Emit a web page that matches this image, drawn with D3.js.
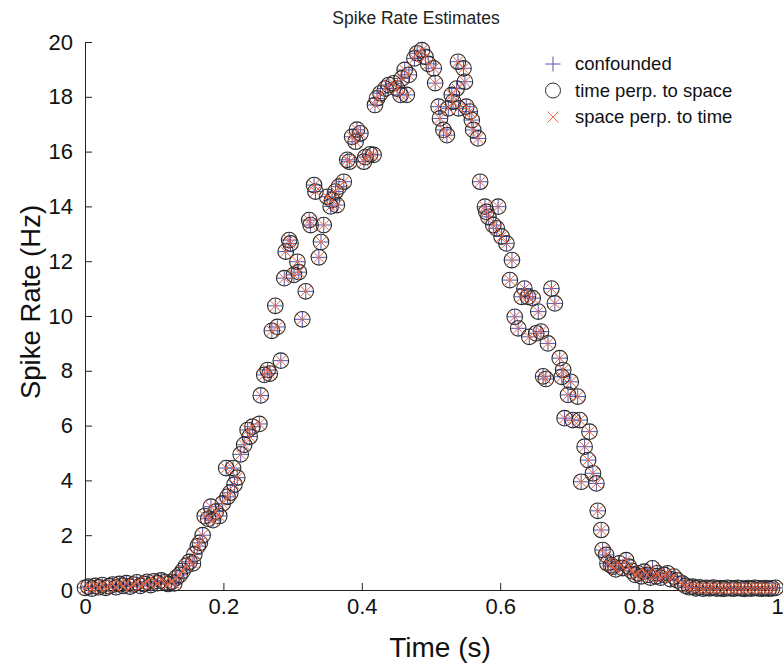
<!DOCTYPE html>
<html>
<head>
<meta charset="utf-8">
<script src="https://cdn.jsdelivr.net/npm/d3@7"></script>
<style>
  body { margin: 0; background: #fff; }
  text { font-family: "Liberation Sans", Arial, sans-serif; }
</style>
</head>
<body>
<div id="chart"></div>
<script>
// Spike rate estimates: [time (s), rate (Hz)]
const baseline = [
  [0.000, 0.08], [0.005, 0.12], [0.010, 0.05], [0.015, 0.15], [0.020, 0.10],
  [0.025, 0.18], [0.030, 0.08], [0.035, 0.14], [0.040, 0.20], [0.045, 0.10],
  [0.050, 0.22], [0.055, 0.15], [0.060, 0.25], [0.065, 0.12], [0.070, 0.20],
  [0.075, 0.28], [0.080, 0.15], [0.085, 0.22], [0.090, 0.30], [0.095, 0.18],
  [0.100, 0.32], [0.105, 0.25], [0.110, 0.35], [0.115, 0.28], [0.120, 0.22],
  [0.125, 0.30]
];

const rising = [
  [0.129, 0.24], [0.132, 0.45], [0.137, 0.55], [0.141, 0.70], [0.146, 0.88],
  [0.151, 1.03], [0.156, 0.97], [0.158, 1.30], [0.163, 1.60], [0.166, 1.72],
  [0.170, 2.00], [0.173, 2.70], [0.178, 2.60], [0.182, 3.04], [0.185, 2.55],
  [0.189, 2.86], [0.194, 2.70], [0.199, 3.16], [0.204, 4.45], [0.206, 3.40],
  [0.210, 3.55], [0.214, 4.45], [0.216, 3.85], [0.220, 4.10], [0.225, 4.95],
  [0.230, 5.30], [0.235, 5.84], [0.238, 5.60], [0.242, 5.96], [0.252, 6.06],
  [0.254, 7.10], [0.259, 7.85], [0.264, 8.03], [0.267, 7.90], [0.270, 9.46],
  [0.275, 10.37], [0.278, 9.60], [0.283, 8.37], [0.288, 11.38], [0.290, 12.35],
  [0.295, 12.77], [0.297, 12.65], [0.302, 11.50], [0.307, 11.98], [0.309, 11.60],
  [0.314, 9.88], [0.319, 10.90], [0.324, 13.50], [0.326, 13.32], [0.331, 14.78],
  [0.333, 14.54], [0.338, 12.14], [0.341, 12.70], [0.345, 13.32], [0.350, 14.35],
  [0.355, 14.00], [0.357, 14.23], [0.362, 14.54], [0.364, 14.05], [0.367, 14.72],
  [0.374, 14.90], [0.379, 15.70], [0.382, 15.63], [0.386, 16.54], [0.391, 16.36],
  [0.393, 16.80], [0.398, 16.67], [0.403, 15.63], [0.405, 15.80], [0.412, 15.90],
  [0.417, 15.88]
];

const peak = [
  [0.419, 17.70], [0.422, 17.94], [0.427, 18.13], [0.434, 18.30], [0.439, 18.43],
  [0.446, 18.49], [0.451, 18.30], [0.456, 18.07], [0.458, 18.67], [0.462, 18.98],
  [0.465, 18.07], [0.468, 18.80], [0.476, 19.40], [0.480, 19.59], [0.487, 19.70],
  [0.492, 19.46], [0.496, 19.20], [0.504, 19.04], [0.506, 18.50], [0.511, 17.64],
  [0.513, 17.21], [0.518, 16.79], [0.523, 16.60], [0.525, 17.58], [0.530, 18.07],
  [0.532, 17.82], [0.537, 18.30], [0.539, 19.28], [0.540, 17.58], [0.547, 19.04],
  [0.549, 18.55], [0.551, 17.64], [0.556, 17.46], [0.559, 17.15], [0.561, 16.79],
  [0.568, 16.48]
];

const falling = [
  [0.571, 14.90], [0.578, 13.99], [0.580, 13.80], [0.583, 13.62], [0.590, 13.32],
  [0.595, 13.20], [0.597, 13.99], [0.602, 12.90], [0.609, 12.65], [0.614, 11.31],
  [0.617, 12.04], [0.621, 9.97], [0.626, 9.55], [0.631, 10.70], [0.635, 11.00],
  [0.640, 10.70], [0.642, 9.24], [0.647, 10.65], [0.652, 9.37], [0.655, 10.16],
  [0.659, 9.43], [0.662, 7.80], [0.666, 7.70], [0.669, 9.00], [0.674, 11.00],
  [0.679, 10.46], [0.686, 8.46], [0.689, 7.78], [0.691, 8.03], [0.693, 6.27],
  [0.698, 7.12], [0.702, 7.60], [0.705, 6.20], [0.712, 7.06], [0.715, 6.20],
  [0.717, 3.95], [0.722, 5.23], [0.727, 4.74], [0.729, 5.78], [0.734, 4.26],
  [0.739, 3.89], [0.741, 2.89], [0.746, 2.19], [0.748, 1.46], [0.753, 1.28],
  [0.755, 0.97], [0.760, 0.90], [0.763, 0.85], [0.767, 0.75], [0.772, 0.97],
  [0.777, 0.80], [0.782, 1.09], [0.786, 0.85], [0.790, 0.70], [0.795, 0.55],
  [0.799, 0.61], [0.804, 0.50], [0.808, 0.67], [0.813, 0.55], [0.817, 0.45],
  [0.820, 0.79], [0.825, 0.50], [0.827, 0.61], [0.832, 0.45], [0.837, 0.55],
  [0.842, 0.61], [0.846, 0.40], [0.851, 0.49], [0.856, 0.35], [0.863, 0.24]
];

const tail = [
  [0.868, 0.15], [0.873, 0.10], [0.878, 0.12], [0.883, 0.06], [0.888, 0.10],
  [0.893, 0.05], [0.898, 0.08], [0.903, 0.06], [0.908, 0.09], [0.913, 0.05],
  [0.918, 0.07], [0.923, 0.04], [0.928, 0.08], [0.933, 0.06], [0.938, 0.05],
  [0.943, 0.08], [0.948, 0.06], [0.953, 0.04], [0.958, 0.07], [0.963, 0.05],
  [0.968, 0.08], [0.973, 0.06], [0.978, 0.05], [0.983, 0.07], [0.988, 0.05],
  [0.993, 0.06], [0.998, 0.08]
];

const xTicks = [0, 0.2, 0.4, 0.6, 0.8, 1];
const yTicks = [0, 2, 4, 6, 8, 10, 12, 14, 16, 18, 20];
const legendLabels = ["confounded", "time perp. to space", "space perp. to time"];

const data = baseline.concat(rising, peak, falling, tail);

// Layout
const W = 783, H = 666;
const margin = { top: 42, right: 6, bottom: 76, left: 85 };
const width = W - margin.left - margin.right;
const height = H - margin.top - margin.bottom;

const plusColor = "#5656b0";
const circleColor = "#2b2b2b";
const crossColor = "#f0643f";

const x = d3.scaleLinear().domain([0, 1]).range([0, width]);
const y = d3.scaleLinear().domain([0, 20]).range([height, 0]);

const svg = d3.select("#chart").append("svg")
    .attr("width", W)
    .attr("height", H);

svg.append("text")
    .attr("x", 416)
    .attr("y", 24)
    .attr("text-anchor", "middle")
    .style("font-size", "17.5px")
    .attr("fill", "#222")
    .text("Spike Rate Estimates");

const g = svg.append("g")
    .attr("transform", `translate(${margin.left},${margin.top})`);

// Axes (MATLAB style: ticks pointing inward)
g.append("g")
    .attr("class", "x axis")
    .attr("transform", `translate(0,${height})`)
    .call(d3.axisBottom(x).tickValues(xTicks).tickFormat(d3.format("~g"))
      .tickSizeInner(-7).tickSizeOuter(0).tickPadding(8))
    .call(a => a.selectAll("text").style("font-size", "22px").attr("fill", "#111"));

g.append("g")
    .attr("class", "y axis")
    .call(d3.axisLeft(y).tickValues(yTicks)
      .tickSizeInner(-7).tickSizeOuter(0).tickPadding(12))
    .call(a => a.selectAll("text").style("font-size", "22px").attr("fill", "#111"));

g.selectAll(".axis path, .axis line").attr("stroke", "#222");

// Axis labels
svg.append("text")
    .attr("x", 440)
    .attr("y", 657)
    .attr("text-anchor", "middle")
    .style("font-size", "28px")
    .attr("fill", "#111")
    .text("Time (s)");

svg.append("text")
    .attr("transform", `translate(40,302) rotate(-90)`)
    .attr("text-anchor", "middle")
    .style("font-size", "27.5px")
    .attr("fill", "#111")
    .text("Spike Rate (Hz)");

// Marker shapes
const plusPath = s => `M${-s},0H${s}M0,${-s}V${s}`;
const crossPath = s => `M${-s},${-s}L${s},${s}M${-s},${s}L${s},${-s}`;

const marks = g.append("g");

marks.selectAll(".plus").data(data).join("path")
    .attr("class", "plus")
    .attr("transform", d => `translate(${x(d[0])},${y(d[1])})`)
    .attr("d", plusPath(7.5))
    .attr("fill", "none")
    .attr("stroke", plusColor)
    .attr("stroke-width", 1);

marks.selectAll(".ring").data(data).join("circle")
    .attr("class", "ring")
    .attr("cx", d => x(d[0]))
    .attr("cy", d => y(d[1]))
    .attr("r", 7.8)
    .attr("fill", "none")
    .attr("stroke", circleColor)
    .attr("stroke-width", 1.1);

marks.selectAll(".cross").data(data).join("path")
    .attr("class", "cross")
    .attr("transform", d => `translate(${x(d[0])},${y(d[1])})`)
    .attr("d", crossPath(5.5))
    .attr("fill", "none")
    .attr("stroke", crossColor)
    .attr("stroke-width", 1);

// Legend
const legend = svg.append("g").attr("transform", "translate(553,64)");
const rowGap = 26.5;

legend.append("path").attr("d", plusPath(7.5))
    .attr("fill", "none").attr("stroke", plusColor);
legend.append("circle").attr("cy", rowGap).attr("r", 7.5)
    .attr("fill", "none").attr("stroke", circleColor);
legend.append("path").attr("transform", `translate(0,${rowGap * 2})`)
    .attr("d", crossPath(5.5))
    .attr("fill", "none").attr("stroke", crossColor);

legend.selectAll(".lbl").data(legendLabels).join("text")
    .attr("class", "lbl")
    .attr("x", 22)
    .attr("y", (d, i) => i * rowGap)
    .attr("dy", "0.35em")
    .style("font-size", "18.5px")
    .attr("fill", "#111")
    .text(d => d);
</script>
</body>
</html>
